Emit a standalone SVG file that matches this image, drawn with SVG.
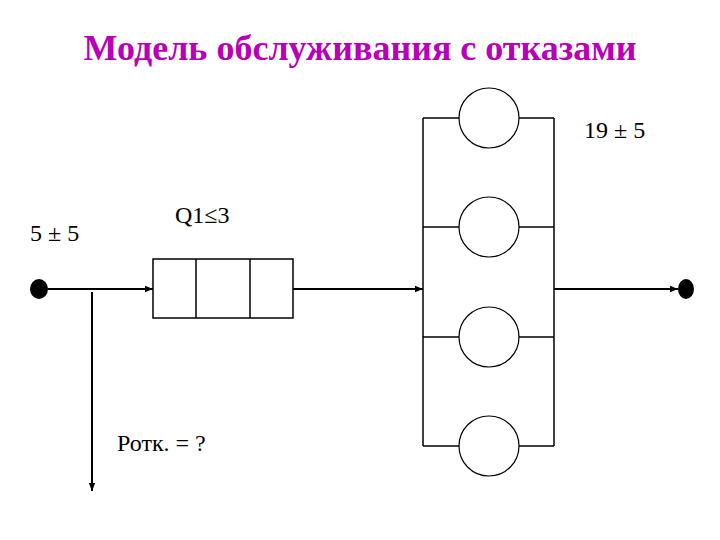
<svg xmlns="http://www.w3.org/2000/svg" width="720" height="540" viewBox="0 0 720 540">
<defs>
<marker id="arr" viewBox="0 0 10 10" refX="10" refY="5" markerWidth="8" markerHeight="8" markerUnits="userSpaceOnUse" orient="auto"><path d="M0,1 L10,5 L0,9 z" fill="#000"/></marker>
<style>
.t{font-family:'Liberation Serif','Times New Roman',serif;fill:#000;font-size:24px}
.ln{stroke:#000;stroke-width:1.5;fill:none}
.th{stroke:#000;stroke-width:2;fill:none}
.c{stroke:#000;stroke-width:1.2;fill:#fff}
</style>
</defs>
<rect width="720" height="540" fill="#fff"/>
<text x="360" y="60" text-anchor="middle" style="font-family:'Liberation Serif','Times New Roman',serif;font-weight:bold;font-size:36px;fill:#B800B8">Модель обслуживания с отказами</text>

<g id="connectors">
<line class="th" x1="48" y1="289" x2="153" y2="289" marker-end="url(#arr)"/>
<line class="th" x1="92" y1="292" x2="92" y2="491" marker-end="url(#arr)"/>
<line class="th" x1="293" y1="289" x2="423" y2="289" marker-end="url(#arr)"/>
<line class="th" x1="554" y1="289" x2="678" y2="289" marker-end="url(#arr)"/>
</g>

<g id="source"><ellipse cx="39" cy="289" rx="9" ry="10" fill="#000"/></g>
<g id="sink"><ellipse cx="686" cy="289" rx="8" ry="10" fill="#000"/></g>

<g id="queue">
<rect x="153" y="259" width="140" height="59" class="ln"/>
<line class="ln" x1="196" y1="259" x2="196" y2="318"/>
<line class="ln" x1="250" y1="259" x2="250" y2="318"/>
</g>

<g id="servers">
<line class="ln" x1="423" y1="118" x2="423" y2="446"/>
<line class="ln" x1="554" y1="118" x2="554" y2="446"/>
<line class="ln" x1="423" y1="118" x2="554" y2="118"/>
<line class="ln" x1="423" y1="227" x2="554" y2="227"/>
<line class="ln" x1="423" y1="337" x2="554" y2="337"/>
<line class="ln" x1="423" y1="446" x2="554" y2="446"/>
</g>
<g id="server1"><circle class="c" cx="489" cy="118" r="30"/></g>
<g id="server2"><circle class="c" cx="489" cy="227" r="30"/></g>
<g id="server3"><circle class="c" cx="489" cy="337" r="30"/></g>
<g id="server4"><circle class="c" cx="489" cy="446" r="30"/></g>

<text class="t" x="584" y="138">19 ± 5</text>
<text class="t" x="30" y="241">5 ± 5</text>
<text class="t" x="175" y="223">Q1≤3</text>
<text class="t" x="117" y="451">Ротк. = ?</text>
</svg>
